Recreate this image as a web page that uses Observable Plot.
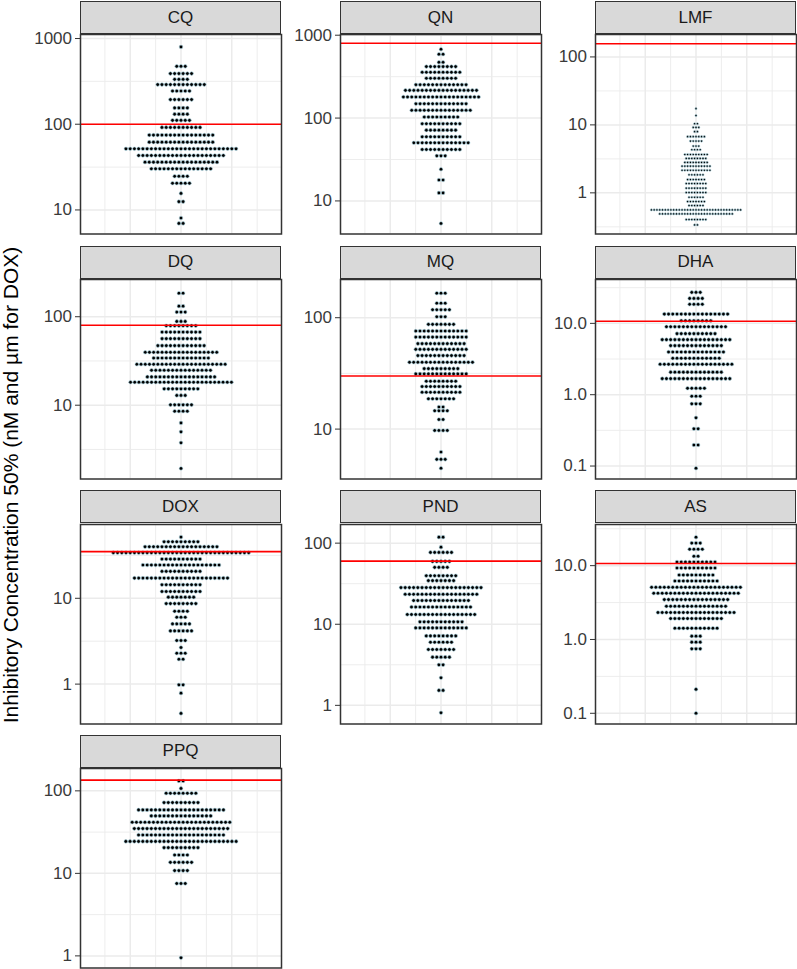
<!DOCTYPE html>
<html><head><meta charset="utf-8">
<script src="https://cdn.jsdelivr.net/npm/d3@7"></script>
<script src="https://cdn.jsdelivr.net/npm/@observablehq/plot@0.6"></script>
<style>
body{margin:0;background:#fff;font-family:"Liberation Sans",Arial,sans-serif;}
#chart{position:relative;width:797px;height:969px;overflow:hidden;background:#fff;}
.strip{position:absolute;box-sizing:border-box;background:#D9D9D9;border:1.5px solid #333;color:#1A1A1A;font-size:17px;display:flex;align-items:center;justify-content:center;}
.panel{position:absolute;}
.ytitle{position:absolute;left:10px;top:485px;transform:translate(-50%,-50%) rotate(-90deg);font-size:21px;white-space:nowrap;line-height:1;color:#000;}
</style></head><body><div id="chart"></div>
<script>
const drugs = ["CQ","QN","LMF","DQ","MQ","DHA","DOX","PND","AS","PPQ"];
const thresholds = [100, 800, 156, 80, 30, 10.7, 35, 60, 10.7, 135];
const yMin = [5.24, 3.99, 0.248, 1.466, 3.565, 0.0658, 0.343, 0.589, 0.0716, 0.713];
const yMax = [1114, 1020, 213.8, 263.4, 220.3, 41.2, 72.4, 169.8, 36.1, 186.6];
const tickSets = [[10,100,1000],[10,100,1000],[1,10,100],[10,100],[10,100],[0.1,1,10],[1,10],[1,10,100],[0.1,1,10],[1,10,100]];
const oneDecimal = [false,false,false,false,false,true,false,false,true,false];

const cqValues = [798,474,390,334,290,244,194,155,131,111,91.8,74.7,61.8,51.7,43.2,36.1,30.2,24.7,20.5,15.6,12.5,8.05,6.97];
const cqCounts = [1,3,6,4,12,5,6,4,4,5,10,16,16,27,21,18,15,4,5,1,2,1,2];
const qnValues = [677,589,471,418,357,302,253,216,180,149,124,103,85.5,71.5,59.4,50.3,41.8,35.0,24.1,17.9,12.5,5.35];
const qnCounts = [1,2,2,8,10,8,13,18,19,13,15,9,10,8,10,14,10,3,1,2,2,1];
const lmfValues = [17.3,13.7,10.4,9.19,7.94,6.70,5.77,4.87,4.31,3.67,3.21,2.80,2.47,2.15,1.84,1.57,1.37,1.17,1.01,0.861,0.745,0.650,0.561,0.490,0.404,0.337];
const lmfCounts = [1,1,2,3,2,7,5,3,4,9,8,9,11,11,6,7,8,8,8,6,7,6,33,27,8,2];
const dqValues = [184.5,131.7,112.8,88.5,79.2,67.0,56.5,47.1,39.6,34.1,29.0,24.8,20.9,18.2,15.3,12.9,10.1,8.55,6.31,5.0,3.76,1.93];
const dqCounts = [2,2,3,3,8,10,10,12,18,14,22,15,17,25,9,3,6,4,1,1,1,1];
const mqValues = [166,135,118,102,87.2,75.9,67.0,58.5,52.0,45.7,39.8,34.9,31.3,26.9,24.1,21.4,18.7,15.8,14.6,12.2,9.73,6.22,5.35,4.45];
const mqCounts = [3,3,5,3,7,13,13,12,13,12,16,9,13,8,10,10,7,2,4,2,4,1,3,1];
const dhaValues = [27.2,22.4,18.5,13.5,10.9,8.98,7.17,5.91,4.87,3.97,3.24,2.67,2.07,1.68,1.23,0.953,0.745,0.475,0.333,0.197,0.093];
const dhaCounts = [3,4,4,16,8,15,10,17,13,14,12,18,13,17,5,3,3,1,2,2,1];
const doxValues = [51.6,45.6,39.9,34.0,28.6,24.4,20.6,17.2,14.4,12.0,10.3,8.67,7.06,6.01,5.03,4.17,3.22,2.67,2.29,1.95,0.98,0.785,0.456];
const doxCounts = [1,9,18,33,10,19,10,23,10,10,7,8,4,3,5,6,3,1,3,2,2,1,1];
const pndValues = [118.5,89.3,76.9,59.6,50.3,39.7,34.5,28.3,23.4,19.6,16.3,13.2,10.7,9.01,7.18,6.01,4.89,3.93,3.16,2.19,1.53,0.811];
const pndCounts = [2,1,6,5,4,8,7,20,18,14,15,17,11,13,8,6,7,5,2,1,2,1];
const asValues = [24.3,20.2,16.7,13.4,11.2,9.29,7.47,6.20,5.09,4.23,3.47,2.82,2.32,1.92,1.42,1.11,0.92,0.747,0.211,0.1];
const asCounts = [1,3,4,2,10,10,9,11,22,21,16,15,19,13,11,3,3,3,1,1];
const ppqValues = [132,107,93.5,72.1,58.7,49.7,41.6,34.9,29.2,24.4,20.5,16.7,13.6,10.8,7.54,0.95];
const ppqCounts = [2,1,8,9,21,15,24,23,21,27,9,4,6,4,3,1];

const valueSets = [cqValues,qnValues,lmfValues,dqValues,mqValues,dhaValues,doxValues,pndValues,asValues,ppqValues];
const countSets = [cqCounts,qnCounts,lmfCounts,dqCounts,mqCounts,dhaCounts,doxCounts,pndCounts,asCounts,ppqCounts];

const xDomain = [0.505, 1.495];
const xMajor = [0.75, 1, 1.25];
const xMinor = [0.625, 0.875, 1.125, 1.375];

const chart = document.getElementById("chart");
const colLeft = [80, 340, 595];
const panelW = 201, panelH = 199.5, stripH = 33.3, rowPitch = 244.6, firstTop = 1;
const ML = 62, MR = 1, MT = 1, MB = 1;
const FONT = "'Liberation Sans', Arial, sans-serif";

drugs.forEach((name, k) => {
  const col = k % 3, row = Math.floor(k / 3);
  const left = colLeft[col], top = firstTop + row * rowPitch;
  const s = document.createElement("div");
  s.className = "strip"; s.textContent = name;
  Object.assign(s.style, {left: left + "px", top: top + "px", width: panelW + "px", height: stripH + "px"});
  chart.append(s);

  const lo = yMin[k], hi = yMax[k];
  const values = valueSets[k], counts = countSets[k];
  const logRange = Math.log10(d3.max(values)) - Math.log10(d3.min(values));
  const pxPerDecade = panelH / (Math.log10(hi) - Math.log10(lo));
  const dotPx = 0.72 * logRange / 30 * pxPerDecade;
  const unitsPerPx = (xDomain[1] - xDomain[0]) / panelW;
  const dots = [];
  values.forEach((v, j) => {
    const n = counts[j];
    for (let i = 0; i < n; i++) dots.push({x: 1 + (i - (n - 1) / 2) * dotPx * unitsPerPx, y: v});
  });
  const minor = [];
  for (let e = Math.floor(Math.log10(lo)) - 1; e <= Math.ceil(Math.log10(hi)); e++) {
    const m = Math.pow(10, e + 0.5);
    if (m > lo && m < hi) minor.push(m);
  }
  const ticks = tickSets[k];
  const fmt = oneDecimal[k] ? (d => d.toFixed(1)) : (d => String(d));

  const svg = Plot.plot({
    width: ML + panelW + MR, height: MT + panelH + MB,
    marginLeft: ML, marginRight: MR, marginTop: MT, marginBottom: MB,
    x: {domain: xDomain, axis: null},
    y: {type: "log", domain: [lo, hi]},
    style: {fontFamily: FONT, fontSize: "17px", color: "#3a3a3a", background: "transparent", overflow: "visible"},
    marks: [
      Plot.ruleY(minor, {stroke: "#EBEBEB", strokeWidth: 0.9}),
      Plot.ruleX(xMinor, {stroke: "#EBEBEB", strokeWidth: 0.9}),
      Plot.ruleY(ticks, {stroke: "#EBEBEB", strokeWidth: 1.5}),
      Plot.ruleX(xMajor, {stroke: "#EBEBEB", strokeWidth: 1.5}),
      Plot.dot(dots, {x: "x", y: "y", r: dotPx / 2 - 0.3, fill: "black", stroke: "lightblue", strokeWidth: 0.6}),
      Plot.ruleY([thresholds[k]], {stroke: "red", strokeWidth: 1.6}),
      Plot.frame({stroke: "#333", strokeWidth: 1.5}),
      Plot.axisY({ticks: ticks, tickFormat: fmt, tickSize: 5, tickPadding: 3.5, label: null, fontSize: 17, stroke: "#333"})
    ]
  });
  svg.classList.add("panel");
  svg.style.left = (left - ML) + "px";
  svg.style.top = (top + stripH - MT) + "px";
  chart.append(svg);
});

const t = document.createElement("div");
t.className = "ytitle";
t.textContent = "Inhibitory Concentration 50% (nM and µm for DOX)";
chart.append(t);
</script></body></html>
